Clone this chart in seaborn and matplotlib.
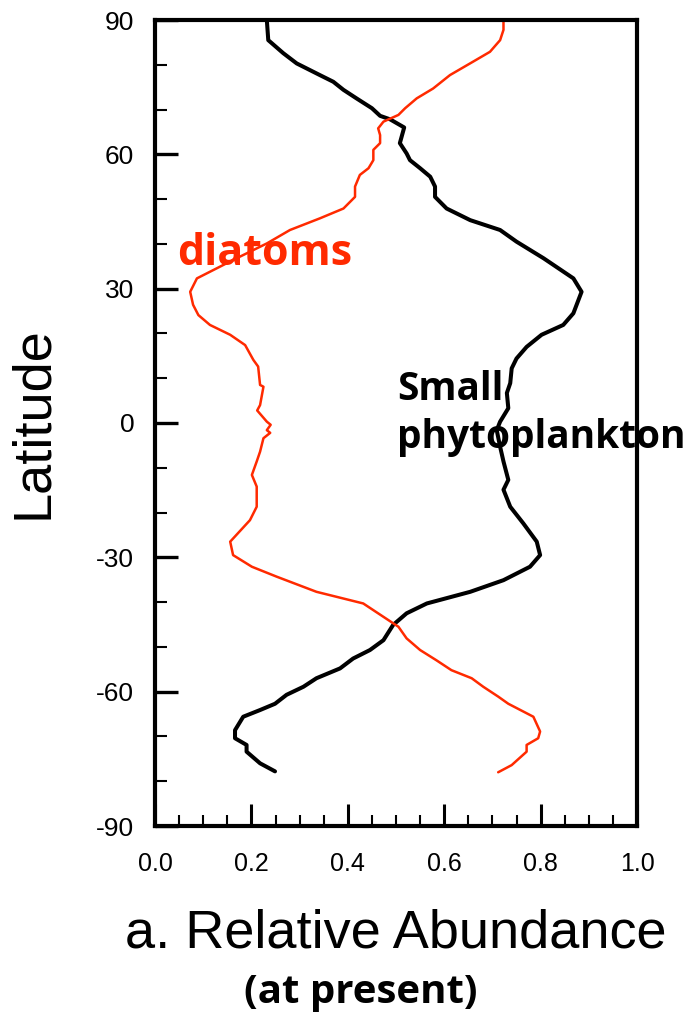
import matplotlib
matplotlib.use('Agg')
import matplotlib.pyplot as plt
from matplotlib.ticker import MultipleLocator, FormatStrFormatter
import seaborn as sns

# ---- data ----
black_lat = [90, 85.5, 82.6, 80.3, 77.7, 76.2, 74.4, 72.5, 70.3, 68.6,
             67.8, 66.0, 62.5, 60.2, 58.7, 56.9, 55.0, 52.8, 50.5, 47.9,
             45.3, 43.1, 40.5, 36.8, 32.3, 29.3, 24.5, 21.9, 19.7, 17.0,
             14.4, 12.2, 8.9, 6.7, 3.3, 0.3, -1.6, -5.3, -8.6, -12.7,
             -14.9, -18.7, -22.4, -26.5, -29.5, -32.1, -35.1, -37.7, -40.3, -42.5,
             -45.1, -48.5, -50.7, -52.6, -54.8, -57.0, -58.9, -60.7, -62.7, -64.1,
             -65.6, -68.6, -70.4, -71.9, -73.4, -76.0, -77.8]
black_val = [0.232, 0.235, 0.266, 0.294, 0.342, 0.370, 0.391, 0.418, 0.450, 0.467,
             0.488, 0.517, 0.508, 0.522, 0.529, 0.550, 0.571, 0.581, 0.581, 0.605,
             0.654, 0.716, 0.750, 0.806, 0.868, 0.885, 0.868, 0.847, 0.802, 0.771,
             0.750, 0.740, 0.737, 0.730, 0.733, 0.716, 0.709, 0.716, 0.723, 0.733,
             0.723, 0.737, 0.764, 0.792, 0.799, 0.778, 0.723, 0.654, 0.564, 0.522,
             0.494, 0.474, 0.446, 0.411, 0.384, 0.335, 0.308, 0.273, 0.249, 0.218,
             0.183, 0.166, 0.166, 0.190, 0.190, 0.218, 0.249]

red_lat = [90, 87.8, 85.5, 82.9, 80.7, 77.7, 74.7, 72.5, 70.3, 68.8,
           67.3, 65.8, 64.3, 62.5, 61.0, 58.7, 56.9, 55.4, 52.8, 50.5,
           47.9, 45.7, 43.1, 40.1, 36.4, 32.3, 29.3, 26.4, 24.1, 21.9,
           19.7, 17.4, 14.1, 12.6, 8.5, 8.1, 4.0, 2.8, 0.3, -0.4,
           -1.6, -2.2, -3.4, -6.4, -8.6, -11.6, -14.2, -18.7, -21.7, -26.5,
           -29.5, -32.1, -34.3, -37.7, -40.3, -45.5, -48.1, -50.7, -53.0, -55.2,
           -57.0, -58.9, -61.1, -62.7, -65.6, -68.9, -70.4, -71.9, -73.4, -76.4,
           -78.0]
red_val = [0.723, 0.723, 0.716, 0.695, 0.660, 0.612, 0.577, 0.543, 0.519, 0.505,
           0.474, 0.463, 0.467, 0.467, 0.453, 0.453, 0.443, 0.425, 0.415, 0.415,
           0.391, 0.342, 0.280, 0.232, 0.162, 0.087, 0.073, 0.079, 0.090, 0.114,
           0.156, 0.187, 0.204, 0.214, 0.218, 0.225, 0.218, 0.212, 0.232, 0.240,
           0.232, 0.239, 0.225, 0.218, 0.211, 0.201, 0.211, 0.211, 0.197, 0.156,
           0.162, 0.201, 0.252, 0.335, 0.432, 0.505, 0.522, 0.550, 0.584, 0.615,
           0.657, 0.681, 0.712, 0.733, 0.785, 0.799, 0.795, 0.771, 0.771, 0.740,
           0.712]

x_ticks = [0.0, 0.2, 0.4, 0.6, 0.8, 1.0]
y_ticks = [-90, -60, -30, 0, 30, 60, 90]

RED = '#FF2A00'

sns.set_style('ticks')
plt.rcParams['font.family'] = ['Liberation Sans', 'DejaVu Sans']
plt.rcParams['axes.unicode_minus'] = False
for k in ['text.color', 'axes.labelcolor', 'xtick.color', 'ytick.color',
          'xtick.labelcolor', 'ytick.labelcolor', 'axes.edgecolor']:
    plt.rcParams[k] = 'black'

W, H = 694, 1015
fig = plt.figure(figsize=(W / 100, H / 100), dpi=100)
ax = fig.add_axes([155 / W, 1 - 826 / H, 482 / W, 806 / H])

sns.lineplot(x=black_val, y=black_lat, sort=False, estimator=None,
             color='black', lw=2.9, ax=ax)
sns.lineplot(x=red_val, y=red_lat, sort=False, estimator=None,
             color=RED, lw=1.8, ax=ax)

ax.set_xlim(0, 1)
ax.set_ylim(-90, 90)
ax.set_xticks(x_ticks)
ax.set_yticks(y_ticks)
ax.xaxis.set_major_formatter(FormatStrFormatter('%.1f'))
ax.xaxis.set_minor_locator(MultipleLocator(0.05))
ax.yaxis.set_minor_locator(MultipleLocator(10))

for s in ax.spines.values():
    s.set_visible(True)
    s.set_linewidth(3.0)
    s.set_color('black')

ax.tick_params(axis='x', which='major', direction='in', length=16, width=2.2,
               labelsize=18, pad=19, top=False, bottom=True, colors='black')
ax.tick_params(axis='x', which='minor', direction='in', length=8, width=1.5,
               top=False, bottom=True, colors='black')
ax.tick_params(axis='y', which='major', direction='in', length=16.5, width=2.4,
               labelsize=19, pad=15, left=True, right=False, colors='black')
ax.tick_params(axis='y', which='minor', direction='in', length=8.5, width=1.5,
               left=True, right=False, colors='black')

ax.set_xlabel('a. Relative Abundance', fontsize=39, color='black')
ax.xaxis.set_label_coords(0.5, -(948 - 826) / 806)
ax.xaxis.label.set_va('baseline')
ax.set_ylabel('Latitude', fontsize=39, color='black')
ax.yaxis.set_label_coords(-(155 - 33) / 482, 0.5)
ax.yaxis.label.set_va('center')

bold = dict(family=['Open Sans', 'DejaVu Sans'], fontweight='bold')
fig.text(177 / W, 1 - 265 / H, 'diatoms', color=RED, fontsize=31,
         va='baseline', ha='left', **bold)
fig.text(397 / W, 1 - 400 / H, 'Small', color='black', fontsize=28,
         va='baseline', ha='left', **bold)
fig.text(397 / W, 1 - 448 / H, 'phytoplankton', color='black', fontsize=28,
         va='baseline', ha='left', **bold)
fig.text(361 / W, 1 - 1003 / H, '(at present)', color='black', fontsize=29,
         va='baseline', ha='center', **bold)

fig.savefig('out.png', dpi=100)
